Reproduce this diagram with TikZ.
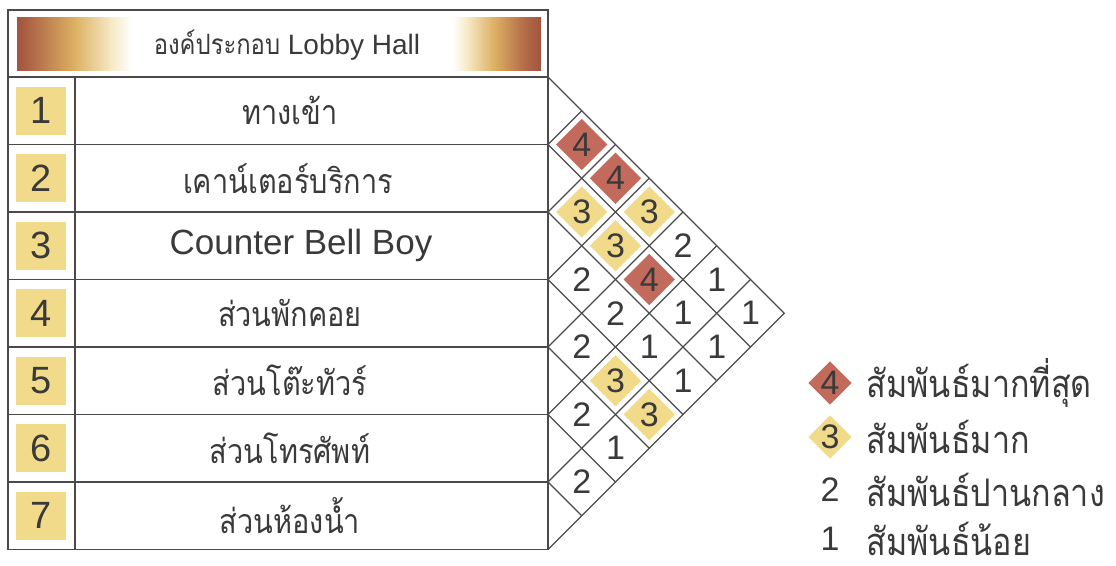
\documentclass[tikz,border=0pt]{standalone}
\usepackage{fontspec}
\setmainfont{Liberation Sans}
\newfontfamily\thaifont[Script=Thai, FakeStretch=0.85]{Loma}
\usetikzlibrary{shapes.geometric}

\definecolor{gridline}{HTML}{4A4A4A}
\definecolor{inktext}{HTML}{3A3A3A}
\definecolor{relred}{HTML}{C26A5C}
\definecolor{relyellow}{HTML}{F1DB8A}
\definecolor{hbrown}{HTML}{A3533F}
\definecolor{hgold}{HTML}{DDB063}
\definecolor{hcream}{HTML}{F6E9C4}
\colorlet{hbrowngold}{hbrown!75!hgold}
\pgfdeclarehorizontalshading{headfade}{100bp}{color(0bp)=(hbrown); color(25bp)=(hbrown);
  color(26.5bp)=(hbrowngold); color(30.5bp)=(hgold); color(34bp)=(hcream); color(36bp)=(white);
  color(66.5bp)=(white); color(68bp)=(hcream); color(70.5bp)=(hgold); color(73.5bp)=(hbrowngold);
  color(75bp)=(hbrown); color(100bp)=(hbrown)}

\begin{document}
\begin{tikzpicture}[x=0.5pt, y=-0.5pt, line width=0.7pt, text=inktext]
  \tikzstyle{numbox} = [rectangle, fill=relyellow, minimum width=25pt, minimum height=24pt, inner sep=0pt, font=\fontsize{19}{19}\selectfont]
  \tikzstyle{itemtext} = [inner sep=0pt, font={\thaifont\fontsize{17}{17}\selectfont}]
  \tikzstyle{itemlatin} = [inner sep=0pt, font=\fontsize{17.5}{17.5}\selectfont]
  \tikzstyle{relnum} = [inner sep=0pt, font=\fontsize{17}{17}\selectfont]
  \tikzstyle{rel4} = [relnum, diamond, fill=relred, minimum size=26pt]
  \tikzstyle{rel3} = [relnum, diamond, fill=relyellow, minimum size=26pt]
  \tikzstyle{rel2} = [relnum]
  \tikzstyle{rel1} = [relnum]
  \tikzstyle{legtext} = [anchor=west, inner sep=0pt, font={\thaifont\fontsize{19}{19}\selectfont}]

  \useasboundingbox (0,0) rectangle (1116,566);

  % table frame
  \shade[shading=headfade] (17,18) rectangle (541,71);
  \draw[gridline] (8,10) rectangle (548,549.5);
  \draw[gridline] (75,77) -- (75,549.5);
  \foreach \y in {77,144.5,212,279.5,347,414.5,482}
    \draw[gridline] (8,\y) -- (548,\y);

  \node[inner sep=0pt, font=\fontsize{14}{14}\selectfont] (head) at (287,45) {{\thaifont องค์ประกอบ} Lobby Hall};

  \node[numbox] (n1) at (41,110.75) {1};
  \node[numbox] (n2) at (41,178.25) {2};
  \node[numbox] (n3) at (41,245.75) {3};
  \node[numbox] (n4) at (41,313.25) {4};
  \node[numbox] (n5) at (41,380.75) {5};
  \node[numbox] (n6) at (41,448.25) {6};
  \node[numbox] (n7) at (41,515.75) {7};

  \node[itemtext] (r1) at (290,110.75) {ทางเข้า};
  \node[itemtext] (r2) at (288,178.25) {เคาน์เตอร์บริการ};
  \node[itemlatin] (r3) at (301,245.75) {Counter Bell Boy};
  \node[itemtext] (r4) at (290,313.25) {ส่วนพักคอย};
  \node[itemtext] (r5) at (290,380.75) {ส่วนโต๊ะทัวร์};
  \node[itemtext] (r6) at (290,448.25) {ส่วนโทรศัพท์};
  \node[itemtext] (r7) at (290,515.75) {ส่วนห้องน้ำ};

  % relation matrix, (j-i, i+j-1) in half rows
  \begin{scope}[xshift=274pt, yshift=-38.5pt, x=16.875pt, y=-16.875pt]
    \draw[gridline] (0,0) -- (7,7) -- (0,14);
    \foreach \b in {1,...,6} {
      \draw[gridline] (0,{2*\b}) -- ({7-\b},{7+\b});
      \draw[gridline] (0,{2*\b}) -- (\b,\b);
    }
    \node[rel4] (c12) at (1,2) {4};
    \node[rel4] (c13) at (2,3) {4};
    \node[rel3] (c23) at (1,4) {3};
    \node[rel3] (c14) at (3,4) {3};
    \node[rel3] (c24) at (2,5) {3};
    \node[rel2] (c15) at (4,5) {2};
    \node[rel2] (c34) at (1,6) {2};
    \node[rel4] (c25) at (3,6) {4};
    \node[rel1] (c16) at (5,6) {1};
    \node[rel2] (c35) at (2,7) {2};
    \node[rel1] (c26) at (4,7) {1};
    \node[rel1] (c17) at (6,7) {1};
    \node[rel2] (c45) at (1,8) {2};
    \node[rel1] (c36) at (3,8) {1};
    \node[rel1] (c27) at (5,8) {1};
    \node[rel3] (c46) at (2,9) {3};
    \node[rel1] (c37) at (4,9) {1};
    \node[rel2] (c56) at (1,10) {2};
    \node[rel3] (c47) at (3,10) {3};
    \node[rel1] (c57) at (2,11) {1};
    \node[rel2] (c67) at (1,12) {2};
  \end{scope}

  % legend
  \node[rel4, minimum size=22pt] (k4) at (830,383) {4};
  \node[rel3, minimum size=22pt] (k3) at (830,437) {3};
  \node[rel2] (k2) at (830,490) {2};
  \node[rel1] (k1) at (830,539) {1};
  \node[legtext] (t4) at (866,383) {สัมพันธ์มากที่สุด};
  \node[legtext] (t3) at (866,437) {สัมพันธ์มาก};
  \node[legtext] (t2) at (866,490) {สัมพันธ์ปานกลาง};
  \node[legtext] (t1) at (866,539) {สัมพันธ์น้อย};
\end{tikzpicture}
\end{document}
